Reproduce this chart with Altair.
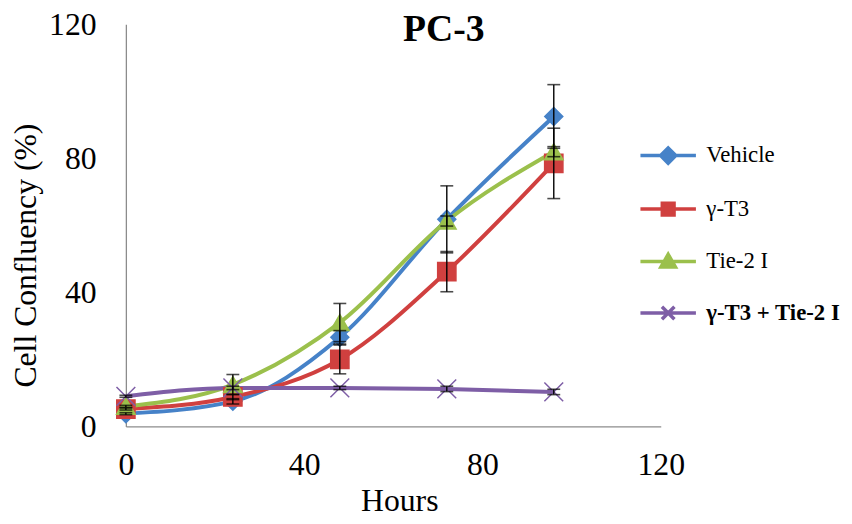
import altair as alt
import pandas as pd

hours = [0, 24, 48, 72, 96]
series = ["Vehicle", "γ-T3", "Tie-2 I", "γ-T3 + Tie-2 I"]
chart_title = ["PC-3"]

vehicle = [3.8, 7.5, 26.6, 61.8, 92.5]
vehicle_err = [0.3, 0.8, 2.0, 10.0, 9.5]
gt3 = [5.2, 8.8, 20.0, 46.2, 78.5]
gt3_err = [0.3, 0.8, 4.3, 6.0, 10.5]
tie2 = [6.0, 12.5, 31.0, 61.3, 82.0]
tie2_err = [0.3, 3.0, 5.7, 1.5, 1.5]
combo = [9.0, 11.5, 11.5, 11.2, 10.3]
combo_err = [0.3, 0.5, 0.5, 0.8, 0.8]

colors = ["#4682C8", "#D0403F", "#9BC04C", "#7E5EA6"]
plot_shapes = ["diamond", "square", "triangle-up", "M-1,-1L1,1M-1,1L1,-1"]
plot_sizes = [330, 360, 320, 270]
plot_stroke_widths = [1.5, 1.5, 1.5, 3]
legend_shapes = [
    "M-4,0L4,0M0,-1.1L1.1,0L0,1.1L-1.1,0Z",
    "M-4,0L4,0M-0.85,-0.85L0.85,-0.85L0.85,0.85L-0.85,0.85Z",
    "M-4,0L4,0M0,-1.05L1.05,0.8L-1.05,0.8Z",
    "M-4,0L4,0M-0.9,-0.9L0.9,0.9M-0.9,0.9L0.9,-0.9",
]

rows = []
for idx, (name, vals, errs) in enumerate(
    zip(series, [vehicle, gt3, tie2, combo], [vehicle_err, gt3_err, tie2_err, combo_err])
):
    for h, v, e in zip(hours, vals, errs):
        rows.append({"series": name, "order": idx, "hours": h, "value": v,
                     "lo": v - e, "hi": v + e})
df = pd.DataFrame(rows)

FONT = "Liberation Serif"

x_enc = alt.X("hours:Q",
              scale=alt.Scale(domain=[0, 120], nice=False),
              axis=alt.Axis(values=[0, 40, 80, 120], title="Hours",
                            titleX=276, titleY=85, titleBaseline="alphabetic",
                            labelPadding=23, labelFlush=False))
y_enc = alt.Y("value:Q",
              scale=alt.Scale(domain=[0, 120], nice=False),
              axis=alt.Axis(values=[0, 40, 80, 120], title="Cell Confluency (%)",
                            titleX=-84, titleY=233, titleAngle=-90,
                            titleBaseline="bottom", labelPadding=30, labelFlush=False))

color_scale = alt.Scale(domain=series, range=colors)

base = alt.Chart(df)

lines = base.mark_line(interpolate="monotone", strokeWidth=4).encode(
    x=x_enc, y=y_enc,
    color=alt.Color("series:N", scale=color_scale, legend=None),
    order=alt.Order("order:Q"),
)

points = base.mark_point(filled=True, opacity=1).encode(
    x="hours:Q", y="value:Q",
    color=alt.Color("series:N", scale=color_scale, legend=None),
    stroke=alt.Stroke("series:N", scale=color_scale, legend=None),
    shape=alt.Shape("series:N", scale=alt.Scale(domain=series, range=plot_shapes), legend=None),
    size=alt.Size("series:N", scale=alt.Scale(domain=series, range=plot_sizes), legend=None),
    strokeWidth=alt.StrokeWidth("series:N",
                                scale=alt.Scale(domain=series, range=plot_stroke_widths),
                                legend=None),
)

err_rules = base.mark_rule(color="black", strokeWidth=1.4).encode(
    x="hours:Q", y="lo:Q", y2="hi:Q"
)
cap_lo = base.mark_tick(color="black", thickness=1.6, size=13, orient="horizontal").encode(
    x="hours:Q", y="lo:Q"
)
cap_hi = base.mark_tick(color="black", thickness=1.6, size=13, orient="horizontal").encode(
    x="hours:Q", y="hi:Q"
)

legend = alt.Legend(
    title=None, orient="none", legendX=536, legendY=121, padding=0,
    symbolSize=196, symbolStrokeWidth=3.5, symbolOpacity=1,
    labelFont=FONT, labelFontSize=23, labelColor="black", labelOffset=27,
    labelLimit=400, rowPadding=25,
    labelFontWeight={"expr": "datum.value === 'γ-T3 + Tie-2 I' ? 'bold' : 'normal'"},
)

legend_layer = base.transform_filter("false").mark_point(filled=True, opacity=1).encode(
    x="hours:Q", y="value:Q",
    fill=alt.Fill("series:N", scale=color_scale, legend=legend),
    stroke=alt.Stroke("series:N", scale=color_scale, legend=legend),
    shape=alt.Shape("series:N", scale=alt.Scale(domain=series, range=legend_shapes), legend=legend),
)

title_layer = alt.Chart(pd.DataFrame({"t": chart_title})).mark_text(
    font=FONT, fontSize=38, fontWeight="bold", color="black",
    align="center", baseline="alphabetic",
).encode(
    x=alt.value(321), y=alt.value(17), text="t:N"
)

chart = alt.layer(lines, points, err_rules, cap_lo, cap_hi, legend_layer, title_layer).resolve_scale(
    shape="independent", fill="independent", stroke="independent"
).properties(
    width=540, height=406,
    autosize="none",
    padding={"left": 119, "top": 14, "right": 185, "bottom": 95},
).configure_view(stroke=None).configure_axis(
    domainColor="#8C8C8C", domainWidth=1.3, ticks=False, grid=False,
    labelFont=FONT, labelFontSize=32, labelColor="black",
    titleFont=FONT, titleFontSize=32, titleFontWeight="normal", titleColor="black",
)

chart.save("out.html", embed_options={"renderer": "svg", "actions": False})
